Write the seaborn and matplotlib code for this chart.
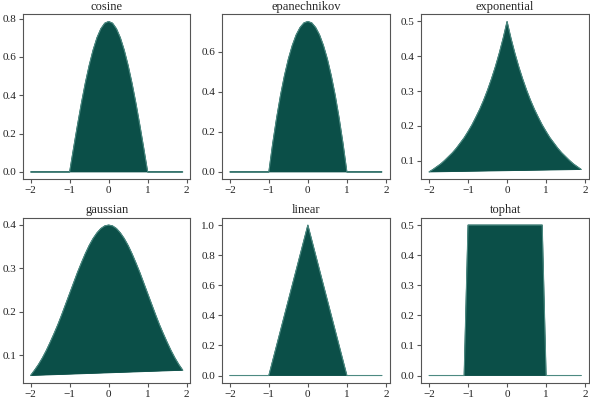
import matplotlib
matplotlib.use("Agg")
import matplotlib.pyplot as plt
import seaborn as sns

sns.set_theme(style="ticks")
plt.rcParams['font.family'] = ['Liberation Serif', 'DejaVu Serif']
plt.rcParams['axes.edgecolor'] = '#555555'
plt.rcParams['xtick.color'] = '#555555'
plt.rcParams['ytick.color'] = '#555555'
plt.rcParams['xtick.labelcolor'] = '#222222'
plt.rcParams['ytick.labelcolor'] = '#222222'

x = [-2.0, -1.9, -1.8, -1.7, -1.6, -1.5, -1.4, -1.3, -1.2, -1.1,
     -1.0, -0.9, -0.8, -0.7, -0.6, -0.5, -0.4, -0.3, -0.2, -0.1,
     0.0, 0.1, 0.2, 0.3, 0.4, 0.5, 0.6, 0.7, 0.8, 0.9,
     1.0, 1.1, 1.2, 1.3, 1.4, 1.5, 1.6, 1.7, 1.8, 1.9]

cosine = [0, 0, 0, 0, 0, 0, 0, 0, 0, 0,
          0.0, 0.123, 0.243, 0.357, 0.462, 0.555, 0.635, 0.700, 0.747, 0.776,
          0.785, 0.776, 0.747, 0.700, 0.635, 0.555, 0.462, 0.357, 0.243, 0.123,
          0.0, 0, 0, 0, 0, 0, 0, 0, 0, 0]

epanechnikov = [0, 0, 0, 0, 0, 0, 0, 0, 0, 0,
                0.0, 0.143, 0.270, 0.383, 0.480, 0.563, 0.630, 0.683, 0.720, 0.743,
                0.750, 0.743, 0.720, 0.683, 0.630, 0.563, 0.480, 0.383, 0.270, 0.143,
                0.0, 0, 0, 0, 0, 0, 0, 0, 0, 0]

exponential = [0.068, 0.075, 0.083, 0.091, 0.101, 0.112, 0.123, 0.136, 0.151, 0.166,
               0.184, 0.203, 0.225, 0.248, 0.274, 0.303, 0.335, 0.370, 0.409, 0.452,
               0.500, 0.452, 0.409, 0.370, 0.335, 0.303, 0.274, 0.248, 0.225, 0.203,
               0.184, 0.166, 0.151, 0.136, 0.123, 0.112, 0.101, 0.091, 0.083, 0.075]

gaussian = [0.054, 0.066, 0.079, 0.094, 0.111, 0.130, 0.150, 0.171, 0.194, 0.218,
            0.242, 0.266, 0.290, 0.312, 0.333, 0.352, 0.368, 0.381, 0.391, 0.397,
            0.399, 0.397, 0.391, 0.381, 0.368, 0.352, 0.333, 0.312, 0.290, 0.266,
            0.242, 0.218, 0.194, 0.171, 0.150, 0.130, 0.111, 0.094, 0.079, 0.066]

linear = [0, 0, 0, 0, 0, 0, 0, 0, 0, 0,
          0.0, 0.1, 0.2, 0.3, 0.4, 0.5, 0.6, 0.7, 0.8, 0.9,
          1.0, 0.9, 0.8, 0.7, 0.6, 0.5, 0.4, 0.3, 0.2, 0.1,
          0.0, 0, 0, 0, 0, 0, 0, 0, 0, 0]

tophat = [0, 0, 0, 0, 0, 0, 0, 0, 0, 0,
          0.5, 0.5, 0.5, 0.5, 0.5, 0.5, 0.5, 0.5, 0.5, 0.5,
          0.5, 0.5, 0.5, 0.5, 0.5, 0.5, 0.5, 0.5, 0.5, 0.5,
          0, 0, 0, 0, 0, 0, 0, 0, 0, 0]

kernels = ['cosine', 'epanechnikov', 'exponential', 'gaussian', 'linear', 'tophat']
values = [cosine, epanechnikov, exponential, gaussian, linear, tophat]

fill_color = '#0b4f48'
line_color = '#4d8a82'

fig, axes = plt.subplots(2, 3, figsize=(5.9, 3.99), dpi=100)
fig.subplots_adjust(left=0.039, right=0.998, top=0.965, bottom=0.04,
                    wspace=0.19, hspace=0.23)

for ax, name, y in zip(axes.ravel(), kernels, values):
    ax.fill(x, y, fc=fill_color, ec=fill_color, lw=0.6)
    # thin outline so the flat zero stretches show like the original
    sns.lineplot(x=x, y=y, ax=ax, color=line_color, lw=0.8, sort=False)
    ax.fill(x, y, fc=fill_color, ec='none')
    ax.set_title(name, fontsize=9, pad=3)
    ax.set_xticks([-2, -1, 0, 1, 2])
    ax.tick_params(labelsize=8, length=3, width=0.8, pad=2)
    for s in ax.spines.values():
        s.set_linewidth(0.8)

fig.savefig('out.png', dpi=100)
